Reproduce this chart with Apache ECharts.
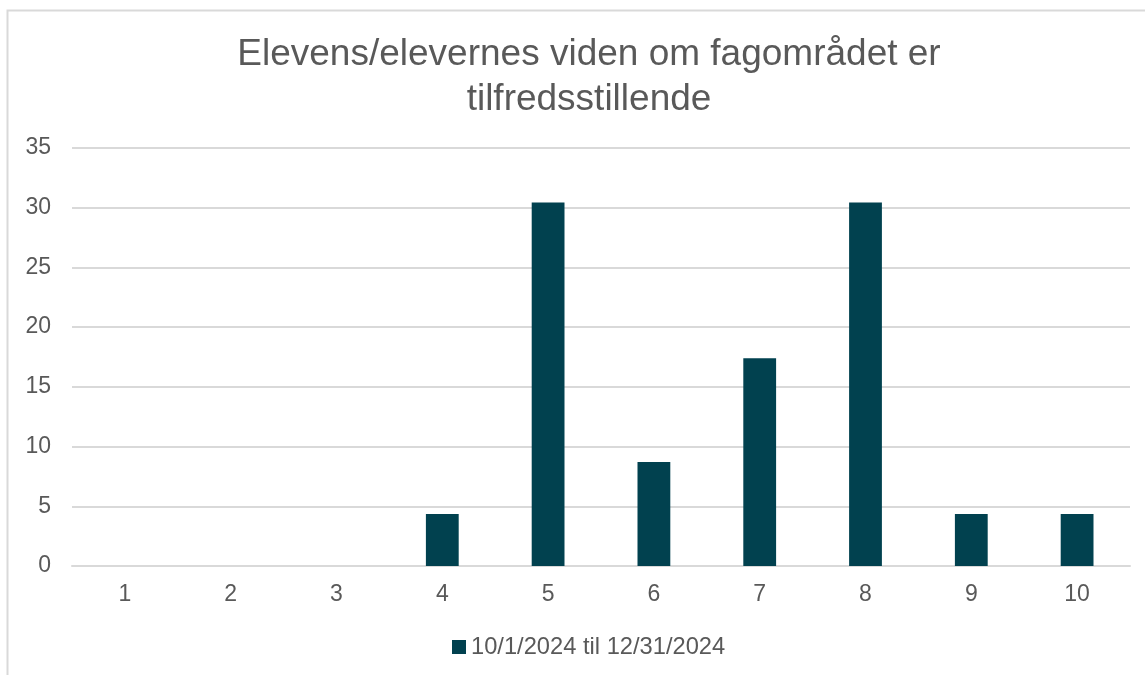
<!DOCTYPE html>
<html>
<head>
<meta charset="utf-8">
<script src="https://cdn.jsdelivr.net/npm/echarts@6/dist/echarts.min.js"></script>
<style>
html,body{margin:0;padding:0;background:#fff;}
#chart{width:1145px;height:675px;}
</style>
</head>
<body>
<div id="chart"></div>
<script>
const titleText = "Elevens/elevernes viden om fagområdet er\ntilfredsstillende";
const categories = ["1","2","3","4","5","6","7","8","9","10"];
const seriesName = "10/1/2024 til 12/31/2024";
const values = [0, 0, 0, 4.35, 30.43, 8.70, 17.39, 30.43, 4.35, 4.35];
const yTicks = { min: 0, max: 35, interval: 5 };

const chart = echarts.init(document.getElementById('chart'), null, {renderer: 'canvas'});
const textColor = '#595959';
const font = 'Liberation Sans, Arial, sans-serif';
chart.setOption({
  backgroundColor: '#fff',
  animation: false,
  graphic: [{
    type: 'rect',
    shape: {x: 7.5, y: 10.5, width: 1160, height: 700},
    style: {fill: 'none', stroke: '#d9d9d9', lineWidth: 2},
    silent: true
  }],
  title: {
    text: titleText,
    left: 584,
    textAlign: 'center',
    top: 27,
    textStyle: {color: textColor, fontFamily: font, fontSize: 37, fontWeight: 'normal', lineHeight: 45}
  },
  legend: {
    data: [seriesName],
    left: 447,
    top: 630,
    itemWidth: 14,
    itemHeight: 14,
    itemGap: 5,
    icon: 'rect',
    textStyle: {color: textColor, fontFamily: font, fontSize: 23.7}
  },
  grid: {left: 72, right: 15, top: 148, bottom: 109, containLabel: false},
  xAxis: {
    type: 'category',
    data: categories,
    axisLine: {show: true, lineStyle: {color: '#d9d9d9', width: 2}},
    axisTick: {show: false},
    axisLabel: {color: textColor, fontFamily: font, fontSize: 23, margin: 17}
  },
  yAxis: {
    type: 'value',
    min: yTicks.min, max: yTicks.max, interval: yTicks.interval,
    axisLine: {show: false},
    axisTick: {show: false},
    splitLine: {lineStyle: {color: '#d9d9d9', width: 2}},
    axisLabel: {color: textColor, fontFamily: font, fontSize: 23, margin: 21}
  },
  series: [{
    name: seriesName,
    type: 'bar',
    data: values,
    barWidth: '31%',
    itemStyle: {color: '#01414f'}
  }]
});
</script>
</body>
</html>
